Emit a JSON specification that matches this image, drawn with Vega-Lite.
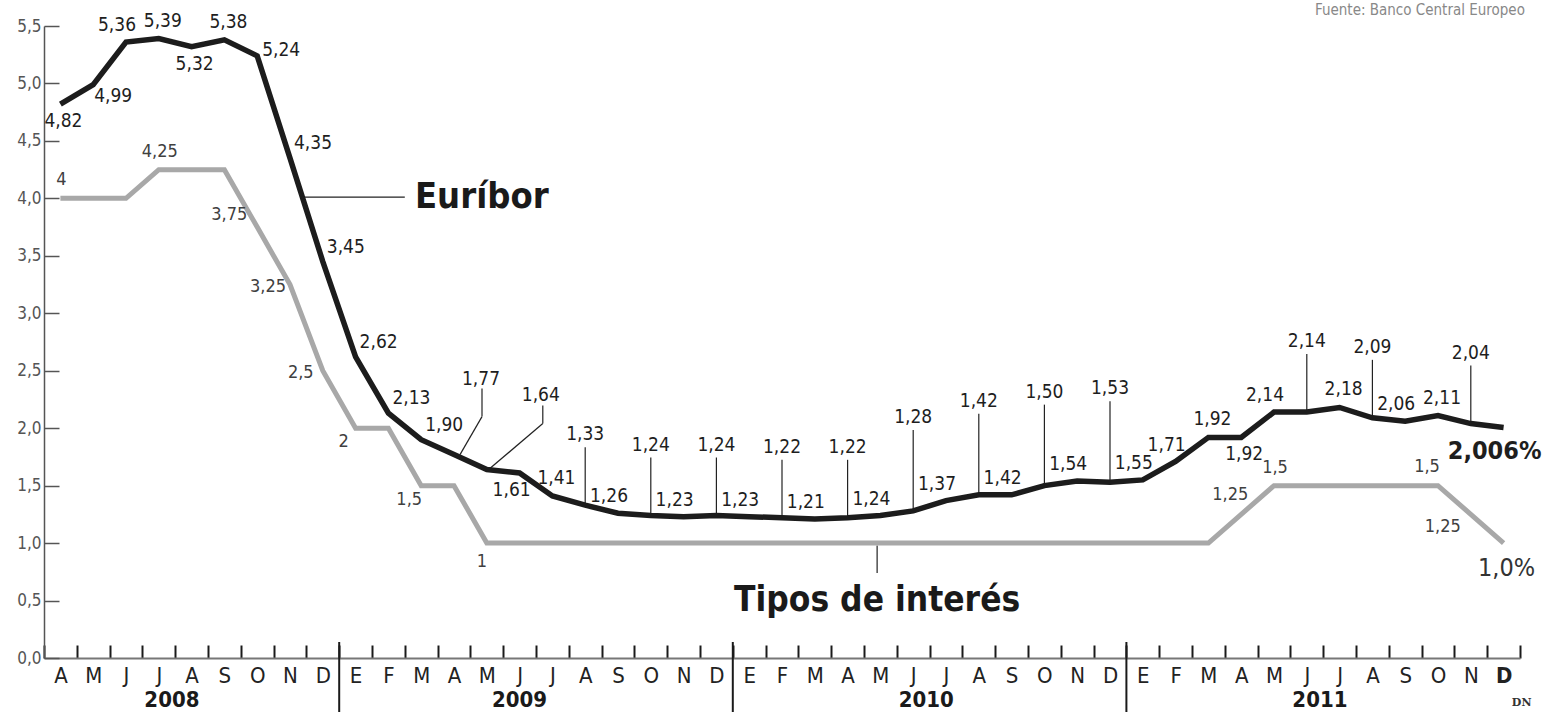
{
"$schema":"https://vega.github.io/schema/vega-lite/v6.json",
"width":1476,"height":632,"autosize":"none",
"padding":{"left":44,"top":26,"right":36,"bottom":54},
"background":"white",
"config":{"view":{"stroke":null},"font":"DejaVu Sans Condensed, DejaVu Sans, sans-serif"},
"data":{"values":[
{"n":0,"s":"e","v":4.82,"p":"b"},{"n":1,"s":"e","v":4.99,"p":"br"},{"n":2,"s":"e","v":5.36,"p":"al"},{"n":3,"s":"e","v":5.39,"p":"a"},{"n":4,"s":"e","v":5.32,"p":"b"},{"n":5,"s":"e","v":5.38,"p":"a"},{"n":6,"s":"e","v":5.24,"p":"r"},{"n":7,"s":"e","v":4.35,"p":"ar"},{"n":8,"s":"e","v":3.45,"p":"ar"},{"n":9,"s":"e","v":2.62,"p":"ar"},{"n":10,"s":"e","v":2.13,"p":"ar"},{"n":11,"s":"e","v":1.90,"p":"ar"},{"n":12,"s":"e","v":1.77,"p":"D1"},{"n":13,"s":"e","v":1.64,"p":"D2"},{"n":14,"s":"e","v":1.61,"p":"bl"},{"n":15,"s":"e","v":1.41,"p":"a"},{"n":16,"s":"e","v":1.33,"p":"L"},{"n":17,"s":"e","v":1.26,"p":"al"},{"n":18,"s":"e","v":1.24,"p":"L"},{"n":19,"s":"e","v":1.23,"p":"al"},{"n":20,"s":"e","v":1.24,"p":"L"},{"n":21,"s":"e","v":1.23,"p":"al"},{"n":22,"s":"e","v":1.22,"p":"L"},{"n":23,"s":"e","v":1.21,"p":"al"},{"n":24,"s":"e","v":1.22,"p":"L"},{"n":25,"s":"e","v":1.24,"p":"al"},{"n":26,"s":"e","v":1.28,"p":"LL"},{"n":27,"s":"e","v":1.37,"p":"al"},{"n":28,"s":"e","v":1.42,"p":"LL"},{"n":29,"s":"e","v":1.42,"p":"al"},{"n":30,"s":"e","v":1.50,"p":"LL"},{"n":31,"s":"e","v":1.54,"p":"al"},{"n":32,"s":"e","v":1.53,"p":"LL"},{"n":33,"s":"e","v":1.55,"p":"al"},{"n":34,"s":"e","v":1.71,"p":"al"},{"n":35,"s":"e","v":1.92,"p":"a"},{"n":36,"s":"e","v":1.92,"p":"b"},{"n":37,"s":"e","v":2.14,"p":"al"},{"n":38,"s":"e","v":2.14,"p":"L"},{"n":39,"s":"e","v":2.18,"p":"a"},{"n":40,"s":"e","v":2.09,"p":"L"},{"n":41,"s":"e","v":2.06,"p":"al"},{"n":42,"s":"e","v":2.11,"p":"a"},{"n":43,"s":"e","v":2.04,"p":"L"},{"n":44,"s":"e","v":2.006,"p":"fin"},
{"n":0,"s":"t","v":4,"p":"a"},{"n":1,"s":"t","v":4},{"n":2,"s":"t","v":4},{"n":3,"s":"t","v":4.25,"p":"a"},{"n":4,"s":"t","v":4.25},{"n":5,"s":"t","v":4.25},{"n":6,"s":"t","v":3.75,"p":"la"},{"n":7,"s":"t","v":3.25,"p":"l"},{"n":8,"s":"t","v":2.5,"p":"l"},{"n":9,"s":"t","v":2,"p":"bl"},{"n":10,"s":"t","v":2},{"n":11,"s":"t","v":1.5,"p":"bl"},{"n":12,"s":"t","v":1.5},{"n":13,"s":"t","v":1,"p":"b"},{"n":14,"s":"t","v":1},{"n":15,"s":"t","v":1},{"n":16,"s":"t","v":1},{"n":17,"s":"t","v":1},{"n":18,"s":"t","v":1},{"n":19,"s":"t","v":1},{"n":20,"s":"t","v":1},{"n":21,"s":"t","v":1},{"n":22,"s":"t","v":1},{"n":23,"s":"t","v":1},{"n":24,"s":"t","v":1},{"n":25,"s":"t","v":1},{"n":26,"s":"t","v":1},{"n":27,"s":"t","v":1},{"n":28,"s":"t","v":1},{"n":29,"s":"t","v":1},{"n":30,"s":"t","v":1},{"n":31,"s":"t","v":1},{"n":32,"s":"t","v":1},{"n":33,"s":"t","v":1},{"n":34,"s":"t","v":1},{"n":35,"s":"t","v":1},{"n":36,"s":"t","v":1.25,"p":"al"},{"n":37,"s":"t","v":1.5,"p":"a"},{"n":38,"s":"t","v":1.5},{"n":39,"s":"t","v":1.5},{"n":40,"s":"t","v":1.5},{"n":41,"s":"t","v":1.5},{"n":42,"s":"t","v":1.5,"p":"al"},{"n":43,"s":"t","v":1.25,"p":"lb"},{"n":44,"s":"t","v":1,"p":"fin"},
{"s":"y","anio":"2008","n":3.4,"sep":8.5},{"s":"y","anio":"2009","n":14.0,"sep":20.5},{"s":"y","anio":"2010","n":26.4,"sep":32.5},{"s":"y","anio":"2011","n":38.4},
{"s":"nota","txt":"Euríbor"},{"s":"nota","txt":"Tipos de interés"},{"s":"nota","txt":"DN"},{"s":"nota","txt":"Fuente: Banco Central Europeo"}
]},
"layer":[
{"encoding":{
"x":{"field":"n","type":"quantitative","scale":{"domain":[-0.5,44.5],"nice":false,"zero":false},
"axis":{"values":[-0.5,0.5,1.5,2.5,3.5,4.5,5.5,6.5,7.5,8.5,9.5,10.5,11.5,12.5,13.5,14.5,15.5,16.5,17.5,18.5,19.5,20.5,21.5,22.5,23.5,24.5,25.5,26.5,27.5,28.5,29.5,30.5,31.5,32.5,33.5,34.5,35.5,36.5,37.5,38.5,39.5,40.5,41.5,42.5,43.5,44.5],"tickCount":200,
"labelExpr":"datum.value > 44 ? '' : substring('AMJJASONDEFMAMJJASONDEFMAMJJASONDEFMAMJJASOND', datum.value + 0.5, datum.value + 1.5)",
"labelOffset":16.4,"labelFlush":false,"labelOverlap":false,"labelBound":false,
"labelFontSize":22,"labelColor":"#222222","labelPadding":20,
"labelFontWeight":{"condition":{"test":"datum.value == 43.5","value":"bold"},"value":"normal"},
"tickSize":-13,"tickWidth":2,"tickColor":"#1a1a1a","domainColor":"#777777","domainWidth":2,"grid":false,"title":null}},
"y":{"field":"v","type":"quantitative","scale":{"domain":[0,5.5],"nice":false},
"axis":{"values":[0,0.5,1,1.5,2,2.5,3,3.5,4,4.5,5,5.5],"tickCount":200,"labelExpr":"replace(format(datum.value, '.1f'), '.', ',')",
"labelFontSize":17,"labelColor":"#555555","labelPadding":18,"tickSize":-15,"tickColor":"#555555","tickWidth":1.5,
"domainColor":"#555555","domainWidth":1.5,"grid":false,"title":null,"labelOverlap":false}}
},
"layer":[
{"transform":[{"filter":"datum.s=='e' && datum.p=='L'"}],"mark":{"type":"rule","stroke":"#222222","strokeWidth":1.2,"y2Offset":-58},"encoding":{"y2":{"field":"v"}}},
{"transform":[{"filter":"datum.s=='e' && datum.p=='LL'"}],"mark":{"type":"rule","stroke":"#222222","strokeWidth":1.2,"y2Offset":-81},"encoding":{"y2":{"field":"v"}}},
{"transform":[{"filter":"datum.s=='e' && datum.p=='D1'"}],"mark":{"type":"rule","stroke":"#222222","strokeWidth":1.2,"xOffset":6,"yOffset":0,"x2Offset":28,"y2Offset":-38},"encoding":{"x2":{"field":"n"},"y2":{"field":"v"}}},
{"transform":[{"filter":"datum.s=='e' && datum.p=='D1'"}],"mark":{"type":"rule","stroke":"#222222","strokeWidth":1.2,"xOffset":28,"yOffset":-38,"x2Offset":28,"y2Offset":-66},"encoding":{"x2":{"field":"n"},"y2":{"field":"v"}}},
{"transform":[{"filter":"datum.s=='e' && datum.p=='D2'"}],"mark":{"type":"rule","stroke":"#222222","strokeWidth":1.2,"xOffset":3,"yOffset":-1,"x2Offset":56,"y2Offset":-46},"encoding":{"x2":{"field":"n"},"y2":{"field":"v"}}},
{"transform":[{"filter":"datum.s=='e' && datum.p=='D2'"}],"mark":{"type":"rule","stroke":"#222222","strokeWidth":1.2,"xOffset":56,"yOffset":-46,"x2Offset":56,"y2Offset":-64},"encoding":{"x2":{"field":"n"},"y2":{"field":"v"}}}
]},
{"transform":[{"filter":"datum.txt=='Tipos de interés'"}],"mark":{"type":"rule","stroke":"#222222","strokeWidth":1.2},"encoding":{"x":{"datum":24.9,"type":"quantitative"},"y":{"datum":0.98,"type":"quantitative"},"y2":{"datum":0.74}}},
{"transform":[{"filter":"datum.txt=='Euríbor'"}],"mark":{"type":"rule","stroke":"#222222","strokeWidth":1.2},"encoding":{"x":{"datum":7.38,"type":"quantitative"},"x2":{"datum":10.5},"y":{"datum":4.01,"type":"quantitative"}}},
{"encoding":{"x":{"field":"n","type":"quantitative"},"y":{"field":"v","type":"quantitative"}},
"layer":[
{"transform":[{"filter":"datum.s=='t'"}],"mark":{"type":"line","stroke":"#a8a8a8","strokeWidth":5},"encoding":{}},
{"transform":[{"filter":"datum.s=='e'"}],"mark":{"type":"line","stroke":"#1c1c1c","strokeWidth":5.5},"encoding":{}},
{"transform":[{"filter":"datum.s=='e' && datum.p=='a'"},{"calculate":"replace(format(datum.v, '.2f'), '.', ',')","as":"lab"}],"mark":{"type":"text","dx":4,"dy":-18,"fontSize":19,"color":"#1e1e1e"},"encoding":{"text":{"field":"lab"}}},
{"transform":[{"filter":"datum.s=='e' && datum.p=='b'"},{"calculate":"replace(format(datum.v, '.2f'), '.', ',')","as":"lab"}],"mark":{"type":"text","dx":3,"dy":17,"fontSize":19,"color":"#1e1e1e"},"encoding":{"text":{"field":"lab"}}},
{"transform":[{"filter":"datum.s=='e' && datum.p=='al'"},{"calculate":"replace(format(datum.v, '.2f'), '.', ',')","as":"lab"}],"mark":{"type":"text","dx":-9,"dy":-17,"fontSize":19,"color":"#1e1e1e"},"encoding":{"text":{"field":"lab"}}},
{"transform":[{"filter":"datum.s=='e' && datum.p=='ar'"},{"calculate":"replace(format(datum.v, '.2f'), '.', ',')","as":"lab"}],"mark":{"type":"text","dx":23,"dy":-15,"fontSize":19,"color":"#1e1e1e"},"encoding":{"text":{"field":"lab"}}},
{"transform":[{"filter":"datum.s=='e' && datum.p=='br'"},{"calculate":"replace(format(datum.v, '.2f'), '.', ',')","as":"lab"}],"mark":{"type":"text","dx":20,"dy":11,"fontSize":19,"color":"#1e1e1e"},"encoding":{"text":{"field":"lab"}}},
{"transform":[{"filter":"datum.s=='e' && datum.p=='bl'"},{"calculate":"replace(format(datum.v, '.2f'), '.', ',')","as":"lab"}],"mark":{"type":"text","dx":-8,"dy":17,"fontSize":19,"color":"#1e1e1e"},"encoding":{"text":{"field":"lab"}}},
{"transform":[{"filter":"datum.s=='e' && datum.p=='r'"},{"calculate":"replace(format(datum.v, '.2f'), '.', ',')","as":"lab"}],"mark":{"type":"text","dx":24,"dy":-6,"fontSize":19,"color":"#1e1e1e"},"encoding":{"text":{"field":"lab"}}},
{"transform":[{"filter":"datum.s=='e' && datum.p=='L'"},{"calculate":"replace(format(datum.v, '.2f'), '.', ',')","as":"lab"}],"mark":{"type":"text","dx":0,"dy":-71,"fontSize":19,"color":"#1e1e1e"},"encoding":{"text":{"field":"lab"}}},
{"transform":[{"filter":"datum.s=='e' && datum.p=='LL'"},{"calculate":"replace(format(datum.v, '.2f'), '.', ',')","as":"lab"}],"mark":{"type":"text","dx":0,"dy":-94,"fontSize":19,"color":"#1e1e1e"},"encoding":{"text":{"field":"lab"}}},
{"transform":[{"filter":"datum.s=='e' && datum.p=='D1'"},{"calculate":"replace(format(datum.v, '.2f'), '.', ',')","as":"lab"}],"mark":{"type":"text","dx":27,"dy":-76,"fontSize":19,"color":"#1e1e1e"},"encoding":{"text":{"field":"lab"}}},
{"transform":[{"filter":"datum.s=='e' && datum.p=='D2'"},{"calculate":"replace(format(datum.v, '.2f'), '.', ',')","as":"lab"}],"mark":{"type":"text","dx":54,"dy":-75,"fontSize":19,"color":"#1e1e1e"},"encoding":{"text":{"field":"lab"}}},
{"transform":[{"filter":"datum.s=='e' && datum.p=='fin'"},{"calculate":"replace(format(datum.v, '.3f'), '.', ',') + '%'","as":"lab"}],"mark":{"type":"text","dx":-9,"dy":24,"fontSize":25,"fontWeight":"bold","color":"#1e1e1e"},"encoding":{"text":{"field":"lab"}}},
{"transform":[{"filter":"datum.s=='t' && datum.p=='a'"},{"calculate":"replace(format(datum.v, '~g'), '.', ',')","as":"lab"}],"mark":{"type":"text","dx":1,"dy":-18,"fontSize":18,"color":"#404040"},"encoding":{"text":{"field":"lab"}}},
{"transform":[{"filter":"datum.s=='t' && datum.p=='al'"},{"calculate":"replace(format(datum.v, '~g'), '.', ',')","as":"lab"}],"mark":{"type":"text","dx":-11,"dy":-19,"fontSize":18,"color":"#404040"},"encoding":{"text":{"field":"lab"}}},
{"transform":[{"filter":"datum.s=='t' && datum.p=='la'"},{"calculate":"replace(format(datum.v, '~g'), '.', ',')","as":"lab"}],"mark":{"type":"text","dx":-28,"dy":-12,"fontSize":18,"color":"#404040"},"encoding":{"text":{"field":"lab"}}},
{"transform":[{"filter":"datum.s=='t' && datum.p=='l'"},{"calculate":"replace(format(datum.v, '~g'), '.', ',')","as":"lab"}],"mark":{"type":"text","dx":-22,"dy":2,"fontSize":18,"color":"#404040"},"encoding":{"text":{"field":"lab"}}},
{"transform":[{"filter":"datum.s=='t' && datum.p=='bl'"},{"calculate":"replace(format(datum.v, '~g'), '.', ',')","as":"lab"}],"mark":{"type":"text","dx":-12,"dy":14,"fontSize":18,"color":"#404040"},"encoding":{"text":{"field":"lab"}}},
{"transform":[{"filter":"datum.s=='t' && datum.p=='b'"},{"calculate":"replace(format(datum.v, '~g'), '.', ',')","as":"lab"}],"mark":{"type":"text","dx":-5,"dy":19,"fontSize":18,"color":"#404040"},"encoding":{"text":{"field":"lab"}}},
{"transform":[{"filter":"datum.s=='t' && datum.p=='lb'"},{"calculate":"replace(format(datum.v, '~g'), '.', ',')","as":"lab"}],"mark":{"type":"text","dx":-28,"dy":13,"fontSize":18,"color":"#404040"},"encoding":{"text":{"field":"lab"}}},
{"transform":[{"filter":"datum.s=='t' && datum.p=='fin'"},{"calculate":"replace(format(datum.v, '.1f'), '.', ',') + '%'","as":"lab"}],"mark":{"type":"text","dx":3,"dy":25,"fontSize":25,"color":"#333333"},"encoding":{"text":{"field":"lab"}}}
]},
{"transform":[{"filter":"datum.txt=='Euríbor'"}],"mark":{"type":"text","align":"left","baseline":"middle","fontSize":36,"fontWeight":"bold","color":"#1a1a1a"},"encoding":{"x":{"datum":10.81,"type":"quantitative"},"y":{"datum":4.01,"type":"quantitative"},"text":{"field":"txt"}}},
{"transform":[{"filter":"datum.txt=='Tipos de interés'"}],"mark":{"type":"text","align":"center","baseline":"middle","fontSize":35,"fontWeight":"bold","color":"#1a1a1a"},"encoding":{"x":{"datum":24.9,"type":"quantitative"},"y":{"datum":0.505,"type":"quantitative"},"text":{"field":"txt"}}},
{"transform":[{"filter":"datum.txt=='DN'"}],"mark":{"type":"text","align":"center","baseline":"middle","fontSize":11,"fontWeight":"bold","font":"DejaVu Serif","color":"#333333"},"encoding":{"x":{"datum":44.55,"type":"quantitative"},"y":{"datum":-0.39,"type":"quantitative"},"text":{"field":"txt"}}},
{"transform":[{"filter":"datum.txt=='Fuente: Banco Central Europeo'"}],"mark":{"type":"text","align":"right","baseline":"alphabetic","fontSize":15,"color":"#888888"},"encoding":{"x":{"datum":44.65,"type":"quantitative"},"y":{"datum":5.6,"type":"quantitative"},"text":{"field":"txt"}}},
{"transform":[{"filter":"datum.s=='y' && isValid(datum.sep)"}],"mark":{"type":"rule","stroke":"#1a1a1a","strokeWidth":2,"yOffset":-16,"y2Offset":60},"encoding":{"x":{"field":"sep","type":"quantitative"},"y":{"datum":0,"type":"quantitative"},"y2":{"datum":0}}},
{"transform":[{"filter":"datum.s=='y'"}],"mark":{"type":"text","align":"center","baseline":"middle","dy":42,"fontSize":22,"fontWeight":"bold","color":"#1a1a1a"},"encoding":{"x":{"field":"n","type":"quantitative"},"y":{"datum":0,"type":"quantitative"},"text":{"field":"anio"}}}
]
}
